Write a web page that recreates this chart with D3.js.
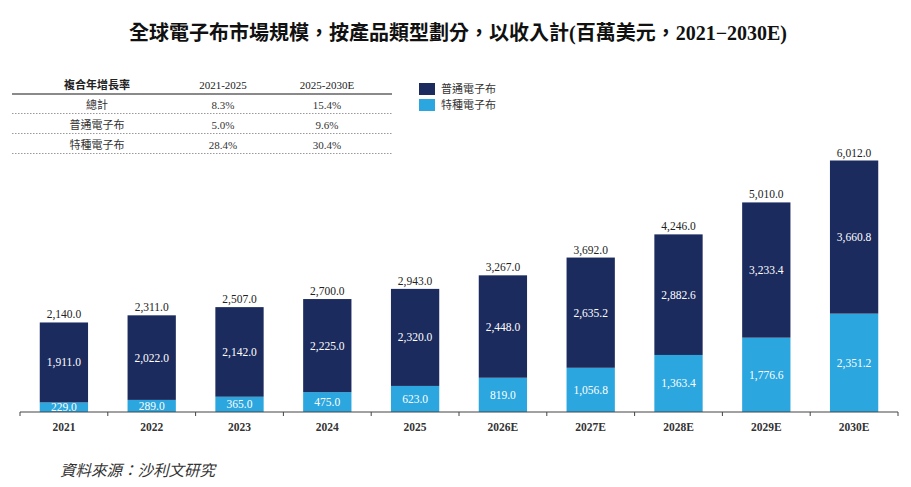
<!DOCTYPE html>
<html>
<head>
<meta charset="utf-8">
<script src="https://cdn.jsdelivr.net/npm/d3@7"></script>
<style>
  body { margin: 0; background: #fff; }
  svg text { font-family: "Liberation Serif", "Noto Sans CJK TC", serif; }
</style>
</head>
<body>
<svg width="911" height="487"></svg>
<script>
const svg = d3.select("svg");

// chart data
const years = ["2021", "2022", "2023", "2024", "2025", "2026E", "2027E", "2028E", "2029E", "2030E"];
const special = [229.0, 289.0, 365.0, 475.0, 623.0, 819.0, 1056.8, 1363.4, 1776.6, 2351.2];
const normal = [1911.0, 2022.0, 2142.0, 2225.0, 2320.0, 2448.0, 2635.2, 2882.6, 3233.4, 3660.8];
const totals = [2140.0, 2311.0, 2507.0, 2700.0, 2943.0, 3267.0, 3692.0, 4246.0, 5010.0, 6012.0];

const seriesNames = ["普通電子布", "特種電子布"];
const colors = { normal: "#1c2b5e", special: "#2ba6de" };

// CAGR table
const cagrHeader = ["複合年增長率", "2021-2025", "2025-2030E"];
const cagrRows = [
  ["總計", "8.3%", "15.4%"],
  ["普通電子布", "5.0%", "9.6%"],
  ["特種電子布", "28.4%", "30.4%"]
];

const fmt = d3.format(",.1f");

// title
svg.append("text")
  .attr("x", 458).attr("y", 40)
  .attr("text-anchor", "middle")
  .attr("font-size", 20).attr("font-weight", "bold")
  .attr("fill", "#111")
  .text("全球電子布市場規模，按產品類型劃分，以收入計(百萬美元，2021−2030E)");

// scales
const x = d3.scaleBand().domain(years).range([20, 898]).paddingInner(0.45).paddingOuter(0.225);
const y = d3.scaleLinear().domain([0, 6012]).range([412, 160.5]);

const stackData = years.map((yr, i) => ({ year: yr, special: special[i], normal: normal[i], total: totals[i] }));
const stack = d3.stack().keys(["special", "normal"])(stackData);

svg.append("g").selectAll("g")
  .data(stack).join("g")
  .attr("fill", d => colors[d.key])
  .selectAll("rect")
  .data(d => d).join("rect")
  .attr("x", d => x(d.data.year))
  .attr("width", x.bandwidth())
  .attr("y", d => y(d[1]))
  .attr("height", d => y(d[0]) - y(d[1]));

// segment labels
stack.forEach(layer => {
  svg.append("g").selectAll("text")
    .data(layer).join("text")
    .attr("x", d => x(d.data.year) + x.bandwidth() / 2)
    .attr("y", d => (y(d[0]) + y(d[1])) / 2 + 4)
    .attr("text-anchor", "middle")
    .attr("font-size", 11.5)
    .attr("fill", "#fff")
    .text(d => fmt(d.data[layer.key]));
});

// total labels
svg.append("g").selectAll("text")
  .data(stackData).join("text")
  .attr("x", d => x(d.year) + x.bandwidth() / 2)
  .attr("y", d => y(d.total) - 4)
  .attr("text-anchor", "middle")
  .attr("font-size", 11.5)
  .attr("fill", "#222")
  .text(d => fmt(d.total));

// x axis
const axisG = svg.append("g").attr("transform", "translate(0,412)");
axisG.append("line").attr("x1", 20).attr("x2", 898).attr("stroke", "#444").attr("stroke-width", 1.2);
axisG.selectAll("line.tick")
  .data(d3.range(years.length + 1)).join("line")
  .attr("class", "tick")
  .attr("x1", i => 20 + i * (878 / years.length)).attr("x2", i => 20 + i * (878 / years.length))
  .attr("y1", 0).attr("y2", 4)
  .attr("stroke", "#444");
axisG.selectAll("text")
  .data(years).join("text")
  .attr("x", d => x(d) + x.bandwidth() / 2)
  .attr("y", 19)
  .attr("text-anchor", "middle")
  .attr("font-size", 11.5).attr("font-weight", "bold")
  .attr("fill", "#333")
  .text(d => d);

// CAGR table
const colX = [97, 223, 327];
const tbl = svg.append("g");
tbl.selectAll("text.h")
  .data(cagrHeader).join("text")
  .attr("class", "h")
  .attr("x", (d, i) => colX[i]).attr("y", 89)
  .attr("text-anchor", "middle")
  .attr("font-size", 11).attr("font-weight", (d, i) => i === 0 ? "bold" : "normal")
  .attr("fill", "#222")
  .text(d => d);
tbl.append("line").attr("x1", 12).attr("x2", 392).attr("y1", 94).attr("y2", 94)
  .attr("stroke", "#8a8a8a").attr("stroke-width", 2);
cagrRows.forEach((row, r) => {
  tbl.selectAll("text.r" + r)
    .data(row).join("text")
    .attr("class", "r" + r)
    .attr("x", (d, i) => colX[i]).attr("y", 109 + r * 20)
    .attr("text-anchor", "middle")
    .attr("font-size", 11)
    .attr("fill", "#333")
    .text(d => d);
  tbl.append("line").attr("x1", 12).attr("x2", 392)
    .attr("y1", 113.5 + r * 20).attr("y2", 113.5 + r * 20)
    .attr("stroke", "#999").attr("stroke-dasharray", "1.5,1.5");
});

// legend
const legend = svg.append("g").attr("transform", "translate(419,83)");
seriesNames.forEach((name, i) => {
  legend.append("rect").attr("x", 0).attr("y", i * 16).attr("width", 16).attr("height", 12)
    .attr("fill", i === 0 ? colors.normal : colors.special);
  legend.append("text").attr("x", 22).attr("y", i * 16 + 10)
    .attr("font-size", 11).attr("fill", "#333").text(name);
});

// source
svg.append("text")
  .attr("x", 60).attr("y", 476)
  .attr("font-size", 15.5).attr("font-style", "italic")
  .attr("fill", "#333")
  .text("資料來源：沙利文研究");
</script>
</body>
</html>
